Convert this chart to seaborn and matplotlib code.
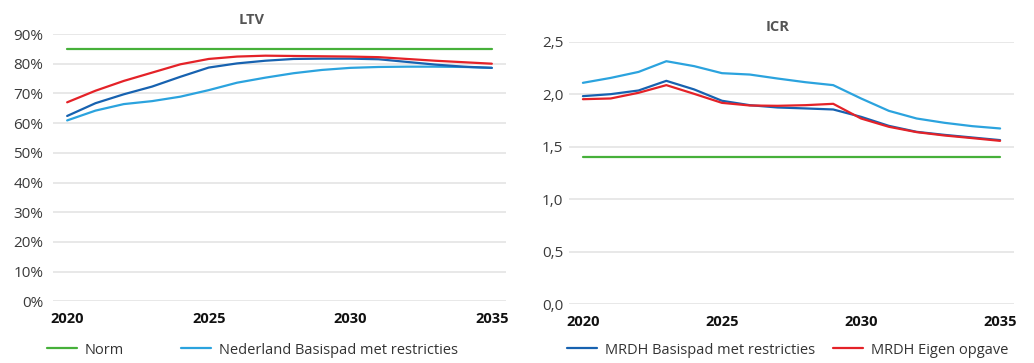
import matplotlib
matplotlib.use("Agg")
import matplotlib.pyplot as plt
import seaborn as sns
import pandas as pd
from matplotlib.ticker import FuncFormatter

years = list(range(2020, 2036))

# LTV (share)
ltv_norm = [0.85] * 16
ltv_nederland = [0.609, 0.642, 0.664, 0.674, 0.689, 0.711, 0.736, 0.753, 0.768, 0.779, 0.786, 0.789,
                 0.790, 0.790, 0.789, 0.786]
ltv_mrdh_basis = [0.624, 0.667, 0.697, 0.723, 0.756, 0.787, 0.801, 0.810, 0.816, 0.817, 0.817, 0.815,
                  0.806, 0.797, 0.790, 0.786]
ltv_mrdh_eigen = [0.670, 0.709, 0.742, 0.770, 0.798, 0.816, 0.824, 0.827, 0.826, 0.825, 0.824, 0.822,
                  0.816, 0.810, 0.805, 0.800]

# ICR
icr_norm = [1.40] * 16
icr_nederland = [2.108, 2.155, 2.212, 2.314, 2.267, 2.200, 2.187, 2.149, 2.114, 2.086, 1.959, 1.841,
                 1.768, 1.727, 1.695, 1.673]
icr_mrdh_basis = [1.981, 2.000, 2.035, 2.127, 2.045, 1.937, 1.895, 1.873, 1.864, 1.854, 1.784, 1.698,
                  1.641, 1.612, 1.587, 1.562]
icr_mrdh_eigen = [1.952, 1.959, 2.013, 2.086, 2.003, 1.917, 1.892, 1.889, 1.895, 1.908, 1.768, 1.689,
                  1.638, 1.606, 1.581, 1.555]

series_names = ["Norm", "Nederland Basispad met restricties",
                "MRDH Basispad met restricties", "MRDH Eigen opgave"]
colors = {"Norm": "#46b03a", "Nederland Basispad met restricties": "#2ba3de",
          "MRDH Basispad met restricties": "#1762b0", "MRDH Eigen opgave": "#e42228"}

xtick_years = [2020, 2025, 2030, 2035]
ltv_ticks = [i / 10 for i in range(10)]
icr_ticks = [0.0, 0.5, 1.0, 1.5, 2.0, 2.5]


def long_frame(values):
    rows = []
    for name, vals in zip(series_names, values):
        for y, v in zip(years, vals):
            rows.append({"jaar": y, "waarde": v, "reeks": name})
    return pd.DataFrame(rows)


ltv_df = long_frame([ltv_norm, ltv_nederland, ltv_mrdh_basis, ltv_mrdh_eigen])
icr_df = long_frame([icr_norm, icr_nederland, icr_mrdh_basis, icr_mrdh_eigen])

sns.set_theme(style="white")
plt.rcParams["font.family"] = ["Open Sans", "DejaVu Sans"]

W, H = 1034, 363
fig = plt.figure(figsize=(W / 100, H / 100), dpi=100)


def frac_axes(x0, x1, ytop, ybot):
    return fig.add_axes([x0 / W, 1 - ybot / H, (x1 - x0) / W, (ybot - ytop) / H])


ax1 = frac_axes(53, 506, 34, 301.3)
ax2 = frac_axes(569, 1014, 41.7, 304)

grid_color = "#e6e6e6"
tick_color = "#3a3a3a"

for ax, df, ticks, fmt, pad in [
    (ax1, ltv_df, ltv_ticks, lambda v, p: f"{v*100:.0f}%", 7),
    (ax2, icr_df, icr_ticks, lambda v, p: f"{v:.1f}".replace(".", ","), 4),
]:
    sns.lineplot(data=df, x="jaar", y="waarde", hue="reeks", hue_order=series_names,
                 palette=colors, linewidth=1.6, ax=ax, legend=False)
    ax.set_xlim(2019.5, 2035.5)
    ax.set_ylim(ticks[0], ticks[-1])
    ax.set_yticks(ticks)
    ax.yaxis.set_major_formatter(FuncFormatter(fmt))
    ax.set_xticks(xtick_years)
    ax.set_xticklabels([str(y) for y in xtick_years], fontweight="bold", color="#111111")
    for lab in ax.get_yticklabels():
        lab.set_color(tick_color)
    ax.tick_params(axis="y", length=0, pad=pad, labelsize=11)
    ax.tick_params(axis="x", length=0, pad=8, labelsize=10.5)
    ax.grid(axis="y", color=grid_color, linewidth=1.3)
    ax.set_axisbelow(True)
    for s in ax.spines.values():
        s.set_visible(False)
    ax.set_xlabel("")
    ax.set_ylabel("")
    for ln in ax.get_lines():
        ln.set_clip_on(False)

fig.text(252 / W, 1 - 20 / H, "LTV", ha="center", va="center", fontsize=10.5,
         fontweight="bold", color="#555555")
fig.text(778 / W, 1 - 27 / H, "ICR", ha="center", va="center", fontsize=10.5,
         fontweight="bold", color="#555555")

# legend entries along the bottom
handle_lookup = {}
for ln, name in zip(ax1.get_lines(), series_names):
    handle_lookup[name] = ln
legend_x = {"Norm": 46.7, "Nederland Basispad met restricties": 180.7,
            "MRDH Basispad met restricties": 566.7, "MRDH Eigen opgave": 833}
fs = 10.5
for name in series_names:
    fig.legend([handle_lookup[name]], [name], loc="center left",
               bbox_to_anchor=(legend_x[name] / W, 1 - 350 / H), frameon=False,
               borderpad=0, borderaxespad=0, handlelength=2.05, handletextpad=0.55,
               fontsize=fs, labelcolor="#333333")

fig.savefig("out.png", dpi=100)
